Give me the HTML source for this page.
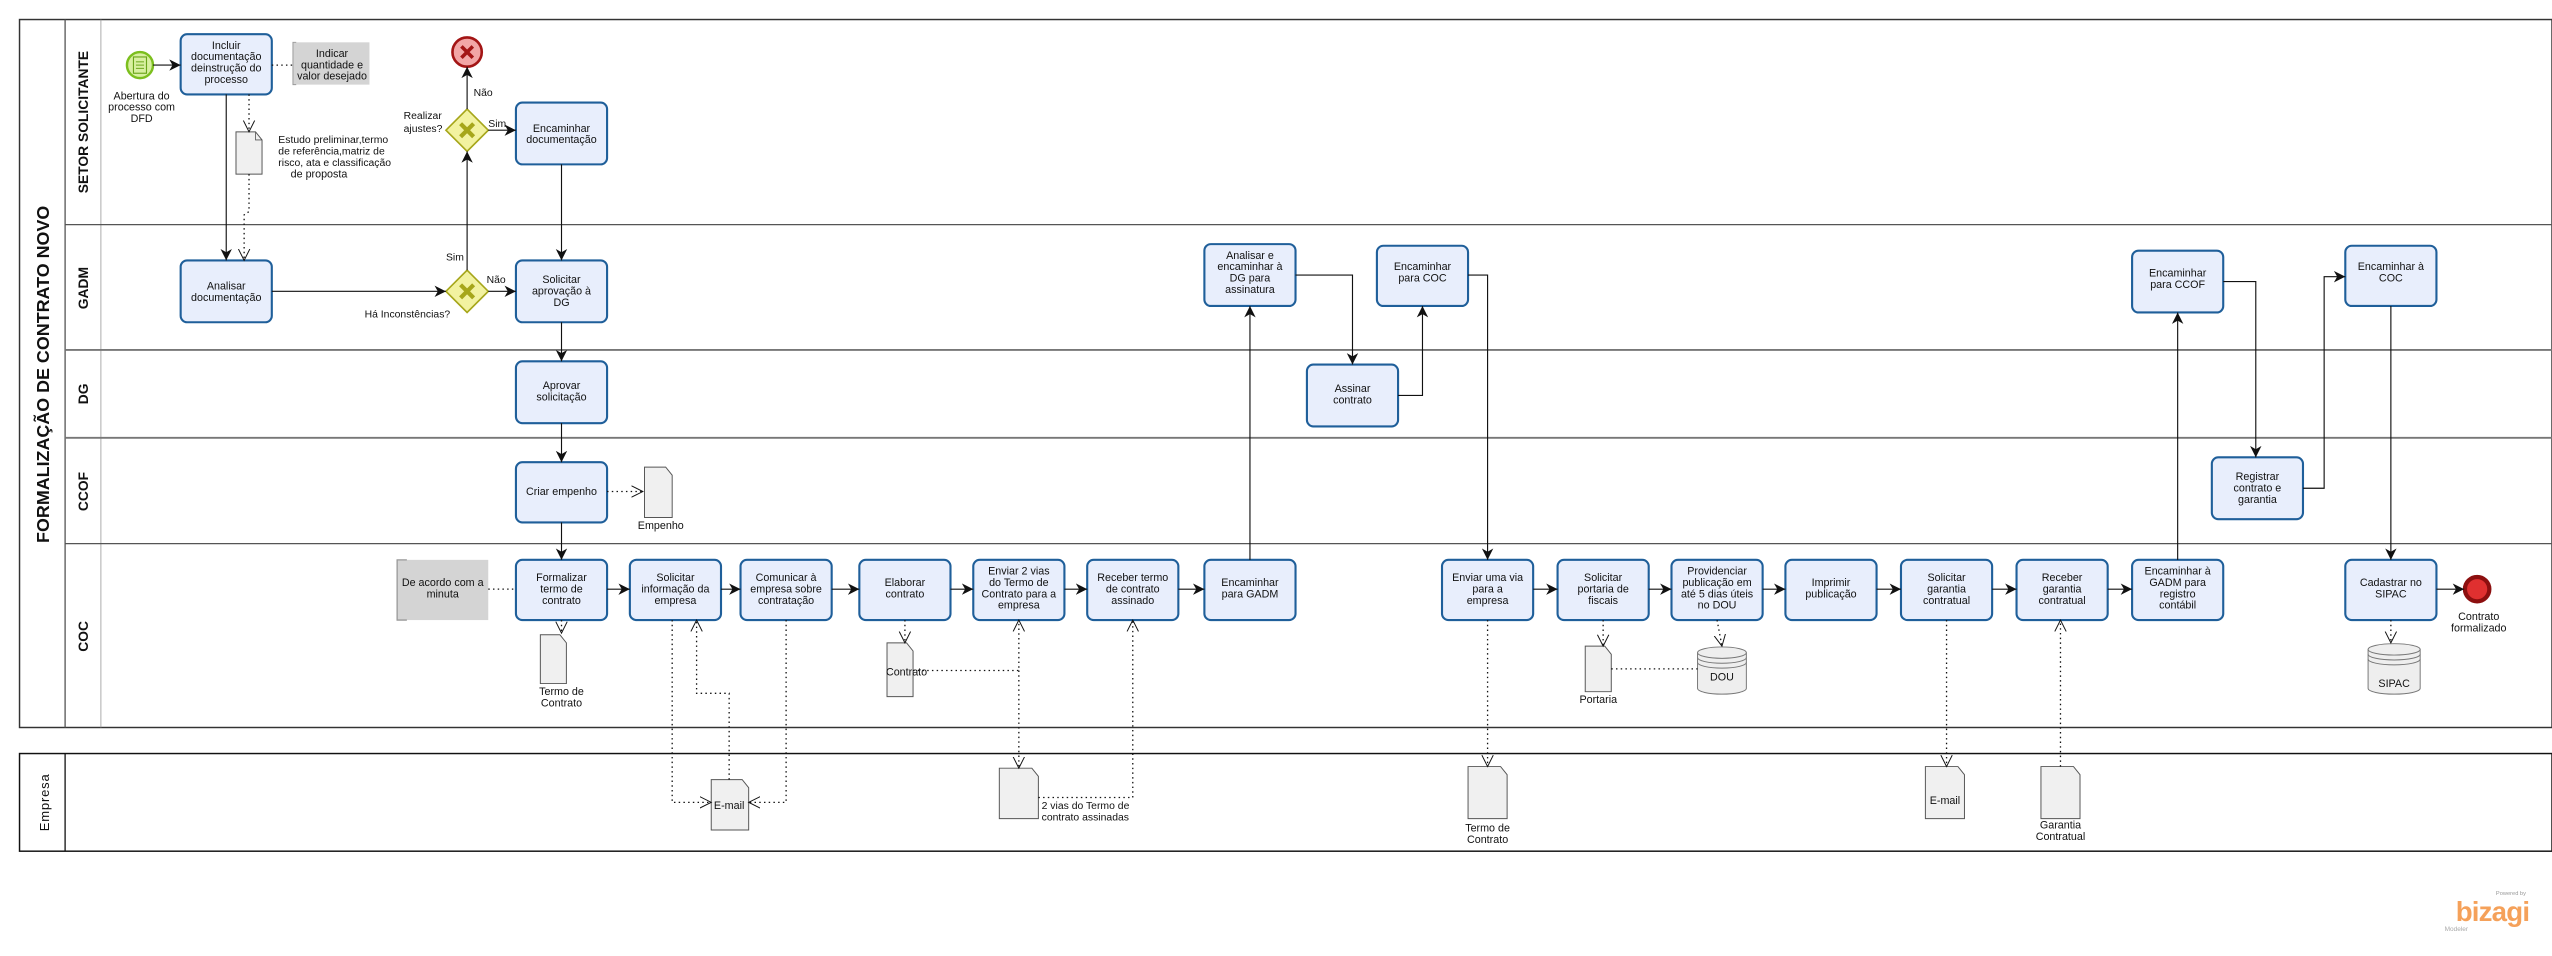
<!DOCTYPE html>
<html><head><meta charset="utf-8"><style>
html,body{margin:0;padding:0;background:#fff;}
svg{display:block;}
text{font-family:"Liberation Sans",sans-serif;}
.t{font-size:6.6px;fill:#111;text-anchor:middle;}
.l{font-size:6.4px;fill:#111;}
.task{fill:#e8eefc;stroke:#1f5f9a;stroke-width:1.3;}
.sf{stroke:#111;stroke-width:0.7;fill:none;}
.dt{stroke:#111;stroke-width:0.8;fill:none;stroke-dasharray:0.9,2;}
.doc{fill:#f0f0f0;stroke:#555;stroke-width:0.6;}
.lane{stroke:#555;stroke-width:0.8;fill:none;}
.hd{font-size:8.5px;font-weight:bold;fill:#111;text-anchor:middle;}
</style></head><body>
<svg width="2552" height="956" viewBox="0 0 1568 587.4" preserveAspectRatio="none" xmlns="http://www.w3.org/2000/svg">
<defs>
<marker id="a" markerWidth="8" markerHeight="8" refX="7" refY="4" orient="auto" markerUnits="userSpaceOnUse"><path d="M0,0.5 L7,4 L0,7.5 L2,4 Z" fill="#111"/></marker>
<marker id="o" markerWidth="8" markerHeight="8" refX="7" refY="4" orient="auto" markerUnits="userSpaceOnUse"><path d="M0,0.5 L7,4 L0,7.5" fill="none" stroke="#111" stroke-width="0.6"/></marker>
</defs>
<!-- pool 1 -->
<rect x="12" y="12" width="1556" height="435" fill="none" stroke="#333" stroke-width="0.9"/>
<line x1="40" y1="12" x2="40" y2="447" class="lane"/>
<line x1="62" y1="12" x2="62" y2="447" stroke="#999" stroke-width="0.5"/>
<line x1="40" y1="138" x2="1568" y2="138" class="lane"/>
<line x1="40" y1="215" x2="1568" y2="215" stroke="#777" stroke-width="1.2"/>
<line x1="40" y1="269" x2="1568" y2="269" stroke="#777" stroke-width="1.2"/>
<line x1="40" y1="334" x2="1568" y2="334" class="lane"/>
<text transform="translate(30,230) rotate(-90)" style="font-size:11px;font-weight:bold;text-anchor:middle;fill:#111">FORMALIZAÇÃO DE CONTRATO NOVO</text>
<text transform="translate(54,75) rotate(-90)" class="hd">SETOR SOLICITANTE</text>
<text transform="translate(54,177) rotate(-90)" class="hd">GADM</text>
<text transform="translate(54,242) rotate(-90)" class="hd">DG</text>
<text transform="translate(54,302) rotate(-90)" class="hd">CCOF</text>
<text transform="translate(54,391) rotate(-90)" class="hd">COC</text>
<!-- pool 2 -->
<rect x="12" y="463" width="1556" height="60" fill="none" stroke="#111" stroke-width="0.9"/>
<line x1="40" y1="463" x2="40" y2="523" stroke="#111" stroke-width="0.8"/>
<text transform="translate(30,493) rotate(-90)" style="font-size:8px;text-anchor:middle;fill:#111;letter-spacing:0.5px">Empresa</text>

<!-- events -->
<circle cx="86" cy="40" r="8" fill="#d8f0a0" stroke="#7cbf1e" stroke-width="1.5"/>
<rect x="82" y="35" width="8" height="10" fill="none" stroke="#6aa51a" stroke-width="0.7"/>
<line x1="83.5" y1="38" x2="88.5" y2="38" stroke="#6aa51a" stroke-width="0.6"/><line x1="83.5" y1="40" x2="88.5" y2="40" stroke="#6aa51a" stroke-width="0.6"/><line x1="83.5" y1="42" x2="88.5" y2="42" stroke="#6aa51a" stroke-width="0.6"/>
<text class="t" x="87" y="61">Abertura do</text><text class="t" x="87" y="68">processo com</text><text class="t" x="87" y="75">DFD</text>
<circle cx="287" cy="32" r="9" fill="#f2a6a6" stroke="#a31515" stroke-width="1.6"/>
<path d="M283.5,28.5 L290.5,35.5 M290.5,28.5 L283.5,35.5" stroke="#a31515" stroke-width="2.2"/>
<circle cx="1522" cy="362" r="7.5" fill="#e03030" stroke="#8c0f0f" stroke-width="2.6"/>
<text class="t" x="1523" y="381">Contrato</text><text class="t" x="1523" y="388">formalizado</text>

<!-- gateways -->
<g><path d="M287,67 L300,80 L287,93 L274,80 Z" fill="#f2f2a0" stroke="#a6a61a" stroke-width="1"/><path d="M283,76 L291,84 M291,76 L283,84" stroke="#a6a61a" stroke-width="2.6"/></g>
<g><path d="M287,166 L300,179 L287,192 L274,179 Z" fill="#f2f2a0" stroke="#a6a61a" stroke-width="1"/><path d="M283,175 L291,183 M291,175 L283,183" stroke="#a6a61a" stroke-width="2.6"/></g>
<text class="l" x="291" y="59">Não</text>
<text class="l" x="248" y="73">Realizar</text><text class="l" x="248" y="81">ajustes?</text>
<text class="l" x="300" y="78">Sim</text>
<text class="l" x="274" y="160">Sim</text>
<text class="l" x="299" y="174">Não</text>
<text class="l" x="224" y="195">Há Inconstências?</text>

<!-- annotations -->
<rect x="180" y="26" width="47" height="26" fill="#d4d4d4"/>
<path d="M182,26 L180,26 L180,52 L182,52" fill="none" stroke="#999" stroke-width="0.6"/>
<text class="t" x="204" y="35">Indicar</text><text class="t" x="204" y="42">quantidade e</text><text class="t" x="204" y="49">valor desejado</text>
<rect x="244" y="344" width="56" height="37" fill="#d4d4d4"/>
<path d="M250,344 L244,344 L244,381 L250,381" fill="none" stroke="#999" stroke-width="0.8"/>
<text class="t" x="272" y="360">De acordo com a</text><text class="t" x="272" y="367">minuta</text>

<!-- tasks -->
<g>
<rect class="task" x="111" y="21" width="56" height="37" rx="4"/><text class="t" x="139" y="30">Incluir</text><text class="t" x="139" y="37">documentação</text><text class="t" x="139" y="44">deinstrução do</text><text class="t" x="139" y="51">processo</text>
<rect class="task" x="111" y="160" width="56" height="38" rx="4"/><text class="t" x="139" y="178">Analisar</text><text class="t" x="139" y="185">documentação</text>
<rect class="task" x="317" y="63" width="56" height="38" rx="4"/><text class="t" x="345" y="81">Encaminhar</text><text class="t" x="345" y="88">documentação</text>
<rect class="task" x="317" y="160" width="56" height="38" rx="4"/><text class="t" x="345" y="174">Solicitar</text><text class="t" x="345" y="181">aprovação à</text><text class="t" x="345" y="188">DG</text>
<rect class="task" x="317" y="222" width="56" height="38" rx="4"/><text class="t" x="345" y="239">Aprovar</text><text class="t" x="345" y="246">solicitação</text>
<rect class="task" x="317" y="284" width="56" height="37" rx="4"/><text class="t" x="345" y="304">Criar empenho</text>
<rect class="task" x="317" y="344" width="56" height="37" rx="4"/><text class="t" x="345" y="357">Formalizar</text><text class="t" x="345" y="364">termo de</text><text class="t" x="345" y="371">contrato</text>
<rect class="task" x="387" y="344" width="56" height="37" rx="4"/><text class="t" x="415" y="357">Solicitar</text><text class="t" x="415" y="364">informação da</text><text class="t" x="415" y="371">empresa</text>
<rect class="task" x="455" y="344" width="56" height="37" rx="4"/><text class="t" x="483" y="357">Comunicar à</text><text class="t" x="483" y="364">empresa sobre</text><text class="t" x="483" y="371">contratação</text>
<rect class="task" x="528" y="344" width="56" height="37" rx="4"/><text class="t" x="556" y="360">Elaborar</text><text class="t" x="556" y="367">contrato</text>
<rect class="task" x="598" y="344" width="56" height="37" rx="4"/><text class="t" x="626" y="353">Enviar 2 vias</text><text class="t" x="626" y="360">do Termo de</text><text class="t" x="626" y="367">Contrato para a</text><text class="t" x="626" y="374">empresa</text>
<rect class="task" x="668" y="344" width="56" height="37" rx="4"/><text class="t" x="696" y="357">Receber termo</text><text class="t" x="696" y="364">de contrato</text><text class="t" x="696" y="371">assinado</text>
<rect class="task" x="740" y="344" width="56" height="37" rx="4"/><text class="t" x="768" y="360">Encaminhar</text><text class="t" x="768" y="367">para GADM</text>
<rect class="task" x="740" y="150" width="56" height="38" rx="4"/><text class="t" x="768" y="159">Analisar e</text><text class="t" x="768" y="166">encaminhar à</text><text class="t" x="768" y="173">DG para</text><text class="t" x="768" y="180">assinatura</text>
<rect class="task" x="846" y="151" width="56" height="37" rx="4"/><text class="t" x="874" y="166">Encaminhar</text><text class="t" x="874" y="173">para COC</text>
<rect class="task" x="803" y="224" width="56" height="38" rx="4"/><text class="t" x="831" y="241">Assinar</text><text class="t" x="831" y="248">contrato</text>
<rect class="task" x="886" y="344" width="56" height="37" rx="4"/><text class="t" x="914" y="357">Enviar uma via</text><text class="t" x="914" y="364">para a</text><text class="t" x="914" y="371">empresa</text>
<rect class="task" x="957" y="344" width="56" height="37" rx="4"/><text class="t" x="985" y="357">Solicitar</text><text class="t" x="985" y="364">portaria de</text><text class="t" x="985" y="371">fiscais</text>
<rect class="task" x="1027" y="344" width="56" height="37" rx="4"/><text class="t" x="1055" y="353">Providenciar</text><text class="t" x="1055" y="360">publicação em</text><text class="t" x="1055" y="367">até 5 dias úteis</text><text class="t" x="1055" y="374">no DOU</text>
<rect class="task" x="1097" y="344" width="56" height="37" rx="4"/><text class="t" x="1125" y="360">Imprimir</text><text class="t" x="1125" y="367">publicação</text>
<rect class="task" x="1168" y="344" width="56" height="37" rx="4"/><text class="t" x="1196" y="357">Solicitar</text><text class="t" x="1196" y="364">garantia</text><text class="t" x="1196" y="371">contratual</text>
<rect class="task" x="1239" y="344" width="56" height="37" rx="4"/><text class="t" x="1267" y="357">Receber</text><text class="t" x="1267" y="364">garantia</text><text class="t" x="1267" y="371">contratual</text>
<rect class="task" x="1310" y="344" width="56" height="37" rx="4"/><text class="t" x="1338" y="353">Encaminhar à</text><text class="t" x="1338" y="360">GADM para</text><text class="t" x="1338" y="367">registro</text><text class="t" x="1338" y="374">contábil</text>
<rect class="task" x="1310" y="154" width="56" height="38" rx="4"/><text class="t" x="1338" y="170">Encaminhar</text><text class="t" x="1338" y="177">para CCOF</text>
<rect class="task" x="1441" y="151" width="56" height="37" rx="4"/><text class="t" x="1469" y="166">Encaminhar à</text><text class="t" x="1469" y="173">COC</text>
<rect class="task" x="1359" y="281" width="56" height="38" rx="4"/><text class="t" x="1387" y="295">Registrar</text><text class="t" x="1387" y="302">contrato e</text><text class="t" x="1387" y="309">garantia</text>
<rect class="task" x="1441" y="344" width="56" height="37" rx="4"/><text class="t" x="1469" y="360">Cadastrar no</text><text class="t" x="1469" y="367">SIPAC</text>
</g>

<!-- data objects -->
<g>
<path class="doc" d="M145,81 L157,81 L161,86 L161,107 L145,107 Z"/><path d="M157,81 L157,86 L161,86" fill="none" stroke="#555" stroke-width="0.5"/>
<path class="doc" d="M396,287 L409,287 L413,292 L413,318 L396,318 Z"/>
<path class="doc" d="M332,390 L344,390 L348,395 L348,420 L332,420 Z"/>
<path class="doc" d="M545,395 L557,395 L561,400 L561,428 L545,428 Z"/>
<path class="doc" d="M974,397 L986,397 L990,402 L990,425 L974,425 Z"/>
<path class="doc" d="M437,479 L456,479 L460,484 L460,510 L437,510 Z"/>
<path class="doc" d="M614,472 L634,472 L638,477 L638,503 L614,503 Z"/>
<path class="doc" d="M902,471 L922,471 L926,476 L926,503 L902,503 Z"/>
<path class="doc" d="M1183,471 L1203,471 L1207,476 L1207,503 L1183,503 Z"/>
<path class="doc" d="M1254,471 L1274,471 L1278,476 L1278,503 L1254,503 Z"/>
<g fill="#eee" stroke="#777" stroke-width="0.6"><path d="M1043,401 L1043,423 A15,3.5 0 0 0 1073,423 L1073,401"/><ellipse cx="1058" cy="401" rx="15" ry="3.5"/><path d="M1043,404 A15,3.5 0 0 0 1073,404 M1043,407 A15,3.5 0 0 0 1073,407" fill="none"/>
<path d="M1455,399 L1455,423 A16,3.5 0 0 0 1487,423 L1487,399"/><ellipse cx="1471" cy="399" rx="16" ry="3.5"/><path d="M1455,402 A16,3.5 0 0 0 1487,402 M1455,405 A16,3.5 0 0 0 1487,405" fill="none"/></g>
<text class="t" x="1058" y="418">DOU</text><text class="t" x="1471" y="422">SIPAC</text>
<text class="l" x="171" y="88">Estudo preliminar,termo</text><text class="l" x="171" y="95">de referência,matriz de</text><text class="l" x="171" y="102">risco, ata e classificação</text><text class="t" x="196" y="109">de proposta</text>
<text class="t" x="406" y="325">Empenho</text>
<text class="t" x="345" y="427">Termo de</text><text class="t" x="345" y="434">Contrato</text>
<text class="t" x="557" y="415">Contrato</text>
<text class="t" x="982" y="432">Portaria</text>
<text class="t" x="448" y="497">E-mail</text>
<text class="l" x="640" y="497">2 vias do Termo de</text><text class="l" x="640" y="504">contrato assinadas</text>
<text class="t" x="914" y="511">Termo de</text><text class="t" x="914" y="518">Contrato</text>
<text class="t" x="1195" y="494">E-mail</text>
<text class="t" x="1266" y="509">Garantia</text><text class="t" x="1266" y="516">Contratual</text>
</g>

<!-- sequence flows -->
<g class="sf">
<path d="M94,40 L111,40" marker-end="url(#a)"/>
<path d="M139,58 L139,160" marker-end="url(#a)"/>
<path d="M167,179 L274,179" marker-end="url(#a)"/>
<path d="M287,166 L287,93" marker-end="url(#a)"/>
<path d="M300,179 L317,179" marker-end="url(#a)"/>
<path d="M287,67 L287,41" marker-end="url(#a)"/>
<path d="M300,80 L317,80" marker-end="url(#a)"/>
<path d="M345,101 L345,160" marker-end="url(#a)"/>
<path d="M345,198 L345,222" marker-end="url(#a)"/>
<path d="M345,260 L345,284" marker-end="url(#a)"/>
<path d="M345,321 L345,344" marker-end="url(#a)"/>
<path d="M373,362 L387,362" marker-end="url(#a)"/>
<path d="M443,362 L455,362" marker-end="url(#a)"/>
<path d="M511,362 L528,362" marker-end="url(#a)"/>
<path d="M584,362 L598,362" marker-end="url(#a)"/>
<path d="M654,362 L668,362" marker-end="url(#a)"/>
<path d="M724,362 L740,362" marker-end="url(#a)"/>
<path d="M768,344 L768,188" marker-end="url(#a)"/>
<path d="M796,169 L831,169 L831,224" marker-end="url(#a)"/>
<path d="M859,243 L874,243 L874,188" marker-end="url(#a)"/>
<path d="M902,169 L914,169 L914,344" marker-end="url(#a)"/>
<path d="M942,362 L957,362" marker-end="url(#a)"/>
<path d="M1013,362 L1027,362" marker-end="url(#a)"/>
<path d="M1083,362 L1097,362" marker-end="url(#a)"/>
<path d="M1153,362 L1168,362" marker-end="url(#a)"/>
<path d="M1224,362 L1239,362" marker-end="url(#a)"/>
<path d="M1295,362 L1310,362" marker-end="url(#a)"/>
<path d="M1338,344 L1338,192" marker-end="url(#a)"/>
<path d="M1366,173 L1386,173 L1386,281" marker-end="url(#a)"/>
<path d="M1415,300 L1428,300 L1428,170 L1441,170" marker-end="url(#a)"/>
<path d="M1469,188 L1469,344" marker-end="url(#a)"/>
<path d="M1497,362 L1514,362" marker-end="url(#a)"/>
</g>
<!-- associations -->
<g class="dt">
<path d="M167,40 L180,40"/>
<path d="M153,58 L153,81" marker-end="url(#o)"/>
<path d="M153,107 L153,130 L150,132 L150,160" marker-end="url(#o)"/>
<path d="M373,302 L395,302" marker-end="url(#o)"/>
<path d="M300,362 L317,362"/>
<path d="M345,381 L345,389" marker-end="url(#o)"/>
<path d="M413,381 L413,493 L437,493" marker-end="url(#o)"/>
<path d="M448,479 L448,426 L428,426 L428,381" marker-end="url(#o)"/>
<path d="M483,381 L483,493 L460,493" marker-end="url(#o)"/>
<path d="M556,381 L556,395" marker-end="url(#o)"/>
<path d="M561,412 L626,412 L626,381" marker-end="url(#o)"/>
<path d="M626,412 L626,472" marker-end="url(#o)"/>
<path d="M638,490 L696,490 L696,381" marker-end="url(#o)"/>
<path d="M914,381 L914,471" marker-end="url(#o)"/>
<path d="M985,381 L985,397" marker-end="url(#o)"/>
<path d="M990,411 L1043,411"/>
<path d="M1055,381 L1058,397" marker-end="url(#o)"/>
<path d="M1196,381 L1196,471" marker-end="url(#o)"/>
<path d="M1266,471 L1266,381" marker-end="url(#o)"/>
<path d="M1469,381 L1469,395" marker-end="url(#o)"/>
</g>
<!-- logo -->
<text x="1552" y="550" style="font-size:3.5px;fill:#999;text-anchor:end">Powered by</text>
<text x="1554" y="566" style="font-size:17px;fill:#f5a15a;text-anchor:end;font-weight:bold;letter-spacing:-0.5px">bizagi</text>
<text x="1502" y="572" style="font-size:4px;fill:#aaa">Modeler</text>
</svg>
</body></html>
